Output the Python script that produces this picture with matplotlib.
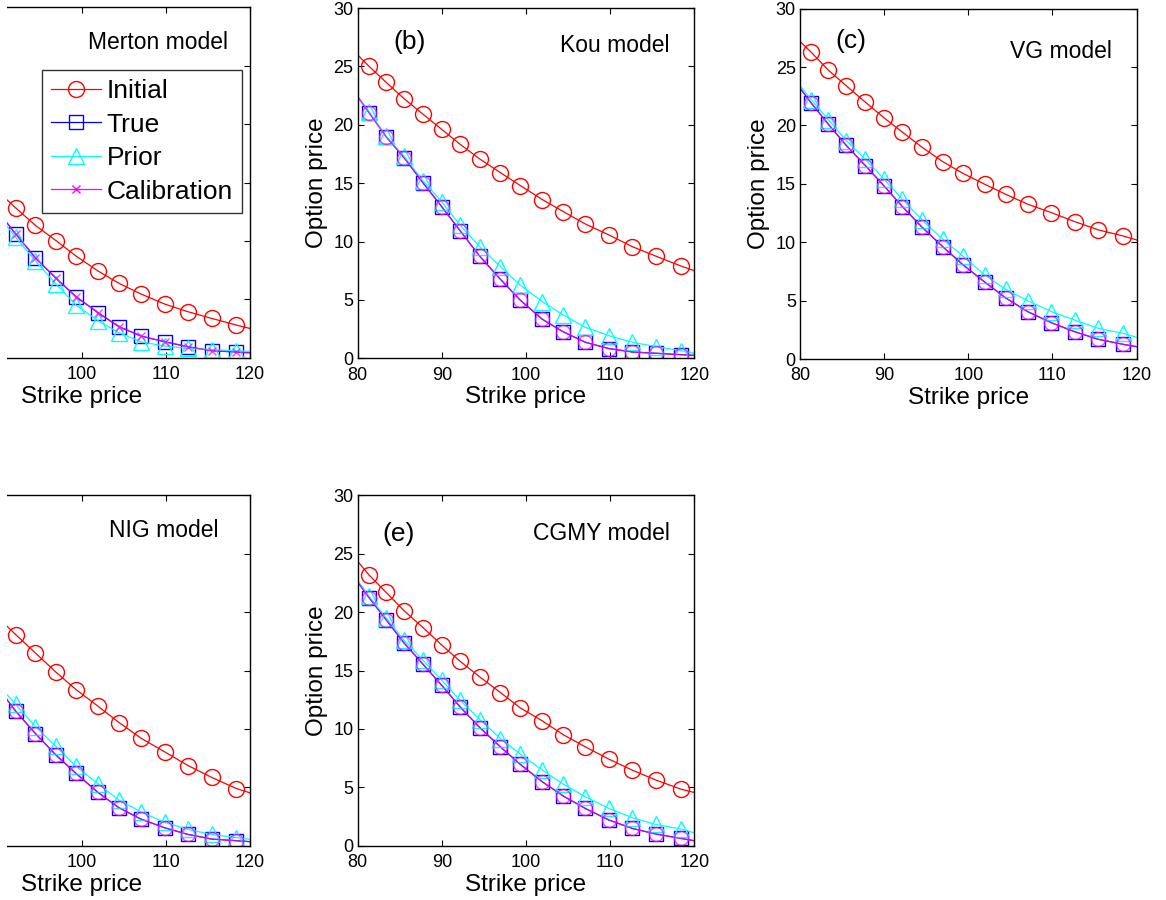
import matplotlib
matplotlib.use('Agg')
import matplotlib.pyplot as plt
from matplotlib.patches import Rectangle

plt.rcParams['font.family'] = ['Liberation Sans', 'DejaVu Sans']

# strike grid (first and last entries are the axis ends, markers sit on the rest)
strike = [80, 81.35, 83.37, 85.5, 87.76, 89.98, 92.16, 94.5, 96.95, 99.33,
          101.94, 104.44, 107.05, 109.86, 112.63, 115.45, 118.38, 120]

# (a) Merton
merton_init = [21.5, 20.5, 19.0, 17.4, 15.8, 14.3, 12.83, 11.34, 10.03, 8.71,
               7.43, 6.37, 5.46, 4.6, 3.94, 3.37, 2.8, 2.51]
merton_true = [21.6, 20.3, 18.5, 16.6, 14.6, 12.6, 10.6, 8.57, 6.8, 5.23,
               3.86, 2.66, 1.86, 1.37, 0.94, 0.6, 0.49, 0.43]
merton_prior = [21.0, 19.8, 18.0, 16.2, 14.3, 12.3, 10.31, 8.29, 6.31, 4.51,
                3.17, 2.14, 1.37, 1.0, 0.8, 0.7, 0.6, 0.55]
merton_calib = [21.6, 20.3, 18.5, 16.6, 14.6, 12.6, 10.6, 8.57, 6.8, 5.23,
                3.86, 2.66, 1.86, 1.37, 0.94, 0.6, 0.49, 0.43]

# (b) Kou
kou_init = [25.98, 25.0, 23.64, 22.24, 20.9, 19.61, 18.33, 17.07, 15.9, 14.79,
            13.59, 12.56, 11.5, 10.56, 9.56, 8.74, 7.91, 7.5]
kou_true = [22.4, 21.04, 18.98, 17.19, 15.02, 12.99, 10.93, 8.74, 6.77, 4.97,
            3.34, 2.26, 1.37, 0.83, 0.54, 0.43, 0.31, 0.25]
kou_prior = [22.4, 21.1, 19.0, 17.3, 15.2, 13.4, 11.4, 9.56, 7.85, 6.25,
             4.85, 3.71, 2.65, 1.94, 1.37, 1.0, 0.66, 0.43]
kou_calib = [22.4, 21.04, 18.98, 17.19, 15.02, 12.99, 10.93, 8.74, 6.77, 4.97,
             3.34, 2.26, 1.37, 0.83, 0.54, 0.43, 0.31, 0.25]

# (c) VG
vg_init = [27.2, 26.26, 24.74, 23.4, 22.0, 20.66, 19.43, 18.14, 16.91, 15.91,
           14.97, 14.11, 13.26, 12.54, 11.77, 11.06, 10.54, 10.2]
vg_true = [23.2, 21.91, 20.11, 18.29, 16.57, 14.83, 13.06, 11.29, 9.63, 8.09,
           6.6, 5.23, 4.06, 3.11, 2.34, 1.69, 1.26, 1.06]
vg_prior = [23.4, 22.2, 20.49, 18.71, 17.11, 15.4, 13.69, 11.91, 10.26, 8.83,
            7.2, 5.97, 5.0, 4.06, 3.34, 2.63, 2.2, 1.86]
vg_calib = [23.2, 21.91, 20.11, 18.29, 16.57, 14.83, 13.06, 11.29, 9.63, 8.09,
            6.6, 5.23, 4.06, 3.11, 2.34, 1.69, 1.26, 1.06]

# (d) NIG
nig_init = [26.4, 25.5, 24.1, 22.6, 21.1, 19.6, 18.08, 16.51, 14.86, 13.37,
            11.95, 10.55, 9.21, 8.04, 6.87, 5.85, 4.9, 4.53]
nig_true = [22.5, 21.3, 19.5, 17.6, 15.6, 13.6, 11.52, 9.61, 7.76, 6.19,
            4.56, 3.25, 2.28, 1.54, 0.97, 0.57, 0.43, 0.35]
nig_prior = [22.7, 21.5, 19.8, 17.9, 15.9, 13.9, 12.1, 10.2, 8.5, 6.8,
             5.3, 3.9, 2.9, 2.0, 1.4, 0.97, 0.7, 0.55]
nig_calib = [22.5, 21.3, 19.5, 17.6, 15.6, 13.6, 11.52, 9.61, 7.76, 6.19,
             4.56, 3.25, 2.28, 1.54, 0.97, 0.57, 0.43, 0.35]

# (e) CGMY
cgmy_init = [24.35, 23.18, 21.7, 20.13, 18.68, 17.19, 15.8, 14.46, 13.12, 11.8,
             10.69, 9.5, 8.47, 7.41, 6.47, 5.62, 4.85, 4.56]
cgmy_true = [22.58, 21.24, 19.36, 17.37, 15.54, 13.74, 11.89, 10.12, 8.47, 6.96,
             5.47, 4.25, 3.19, 2.2, 1.48, 1.0, 0.63, 0.43]
cgmy_prior = [22.7, 21.36, 19.5, 17.59, 15.88, 14.17, 12.46, 10.81, 9.18, 7.84,
              6.47, 5.27, 4.19, 3.19, 2.4, 1.82, 1.43, 1.11]
cgmy_calib = [22.58, 21.24, 19.36, 17.37, 15.54, 13.74, 11.89, 10.12, 8.47, 6.96,
              5.47, 4.25, 3.19, 2.2, 1.48, 1.0, 0.63, 0.43]

series_names = ['Initial', 'True', 'Prior', 'Calibration']
xticks = [80, 90, 100, 110, 120]
yticks = [0, 5, 10, 15, 20, 25, 30]

marks = list(range(1, len(strike) - 1))


def draw(ax, init, true, prior, calib, calib_marker, calib_ms, cropped=False):
    ax.plot(strike, init, '-', color='#ff0000', lw=0.9, marker='o', ms=11.5,
            mfc='none', mec='#ff0000', mew=1.0, markevery=marks, label=series_names[0])
    ax.plot(strike, true, '-', color='#0000ff', lw=0.9, marker='s', ms=10,
            mfc='none', mec='#0000ff', mew=1.0, markevery=marks, label=series_names[1])
    ax.plot(strike, prior, '-', color='#00ffff', lw=0.9, marker='^', ms=12,
            mfc='none', mec='#00ffff', mew=1.0, markevery=marks, label=series_names[2])
    ax.plot(strike, calib, '-', color='#ff00ff', lw=0.9, alpha=0.75, marker=calib_marker,
            ms=calib_ms, mfc='none', mec='#ff00ff', mew=1.0, markevery=marks,
            label=series_names[3])
    ax.set_xlim(80, 120)
    ax.set_ylim(0, 30)
    ax.set_xticks(xticks)
    ax.set_yticks(yticks)
    ax.tick_params(direction='in', top=True, right=True, length=4, width=0.8,
                   labelsize=13)
    ax.tick_params(axis='x', pad=6)
    ax.tick_params(axis='y', pad=3)
    for s in ax.spines.values():
        s.set_linewidth(1.0)
    ax.set_xlabel('Strike price', fontsize=17.5, labelpad=2)
    if cropped:
        # the left part of these panels falls outside the picture
        ax.set_xticklabels(['', ''] + [str(t) for t in xticks[2:]])
        ax.set_yticklabels([])
    else:
        ax.set_ylabel('Option price', fontsize=17.5, labelpad=4)


fig = plt.figure(figsize=(11.66, 9), dpi=100)

w, h = 0.2887, 0.3892
ax_a = fig.add_axes([-0.0743, 0.6025, w, h])
ax_b = fig.add_axes([0.3068, 0.6019, w, h])
ax_c = fig.add_axes([0.6861, 0.6011, w, h])
ax_d = fig.add_axes([-0.0743, 0.0603, w, h])
ax_e = fig.add_axes([0.3068, 0.0603, w, h])

draw(ax_a, merton_init, merton_true, merton_prior, merton_calib, 'x', 6, cropped=True)
draw(ax_b, kou_init, kou_true, kou_prior, kou_calib, 'o', 10)
draw(ax_c, vg_init, vg_true, vg_prior, vg_calib, 'o', 10)
draw(ax_d, nig_init, nig_true, nig_prior, nig_calib, 'o', 10, cropped=True)
draw(ax_e, cgmy_init, cgmy_true, cgmy_prior, cgmy_calib, 'o', 10)

ax_b.text(86.2, 27.1, '(b)', fontsize=19, ha='center', va='center')
ax_c.text(86.1, 27.2, '(c)', fontsize=19, ha='center', va='center')
ax_e.text(84.8, 26.7, '(e)', fontsize=19, ha='center', va='center')

ax_a.text(117.35, 27.0, 'Merton model', fontsize=16.5, ha='right', va='center')
ax_b.text(117.0, 26.75, 'Kou model', fontsize=16.5, ha='right', va='center')
ax_c.text(117.1, 26.3, 'VG model', fontsize=16.5, ha='right', va='center')
ax_d.text(116.3, 27.0, 'NIG model', fontsize=16.5, ha='right', va='center')
ax_e.text(117.1, 26.7, 'CGMY model', fontsize=16.5, ha='right', va='center')

leg = ax_a.legend(loc='upper left', bbox_to_anchor=(0.382, 0.822), borderaxespad=0,
                  fontsize=19, frameon=True, fancybox=False, handlelength=1.9,
                  handletextpad=0.2, labelspacing=0.36, borderpad=0.35)
leg.get_frame().set_edgecolor('black')
leg.get_frame().set_linewidth(1.0)
for lh in leg.get_lines():
    lh.set_alpha(1)

# the source figure is cropped with a thin white strip on the left
fig.add_artist(Rectangle((0, 0), 6.5 / 1166, 1, transform=fig.transFigure,
                         facecolor='white', edgecolor='none', zorder=10))

fig.savefig('out.png', dpi=100)
